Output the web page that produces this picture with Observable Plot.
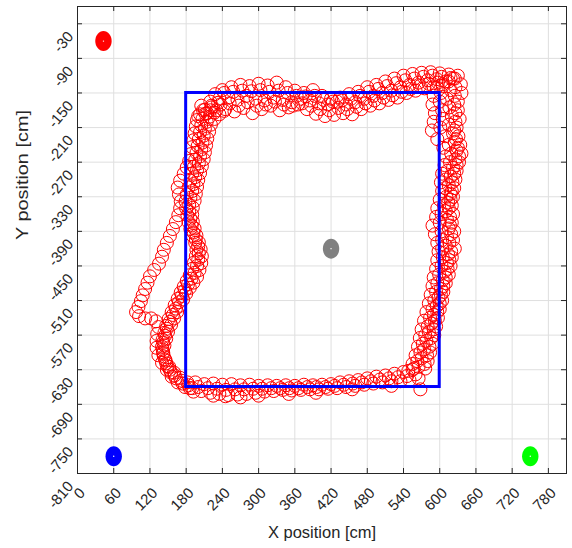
<!DOCTYPE html>
<html><head><meta charset="utf-8">
<script src="https://cdn.jsdelivr.net/npm/d3@7"></script>
<script src="https://cdn.jsdelivr.net/npm/@observablehq/plot@0.6"></script>
<style>body{margin:0;background:#fff} #chart svg{display:block}</style>
</head><body><div id="chart"></div>
<script>
const xTicks = [0,60,120,180,240,300,360,420,480,540,600,660,720,780];
const yTicks = [-810,-750,-690,-630,-570,-510,-450,-390,-330,-270,-210,-150,-90,-30];
const xDomain = [0, 810];
const yDomain = [-810, 0];

// reference square (cm)
const squareX = [180, 600];
const squareY = [-660, -150];

// anchors / landmarks
const markerX = [43, 60, 750, 420];
const markerY = [-60, -780, -780, -420];
const markerColor = ["#ff0000", "#0000ff", "#00ff00", "#808080"];

// measured positions, read segment by segment
const topA = [[200,-190],[215,-185],[230,-180],[245,-178],[260,-182],[275,-176],[290,-185],[305,-178],[320,-172],[335,-180],[350,-175],[365,-170],[380,-178],[395,-186],[410,-190],[425,-188],[440,-185],[455,-187],[470,-178],[485,-172],[500,-168],[515,-162],[530,-158],[545,-150],[560,-146],[575,-142],[590,-140],[605,-138]];
const topB = [[205,-172],[220,-165],[235,-160],[250,-158],[265,-162],[280,-155],[295,-160],[310,-163],[325,-158],[340,-162],[355,-166],[370,-160],[385,-163],[400,-168],[415,-170],[430,-165],[445,-170],[460,-166],[475,-160],[490,-155],[505,-150],[520,-146],[535,-140],[550,-136],[565,-132],[580,-128],[595,-126],[610,-130]];
const topC = [[240,-145],[255,-140],[270,-136],[285,-138],[300,-134],[315,-137],[330,-132],[345,-140],[360,-146],[375,-150],[390,-145],[405,-155],[420,-160],[435,-158],[450,-152],[465,-148],[480,-140],[495,-136],[510,-130],[525,-125],[540,-120],[555,-117],[570,-115],[585,-114],[600,-116],[615,-118],[625,-125]];
const topD = [[208,-180],[222,-175],[237,-170],[252,-168],[267,-172],[282,-166],[297,-172],[312,-170],[327,-165],[342,-170],[357,-172],[372,-168],[387,-172],[402,-178],[417,-180],[432,-176],[447,-178],[462,-174],[477,-168],[492,-163],[507,-158],[522,-154],[537,-148],[552,-143],[567,-138],[582,-134],[597,-132]];
const topE = [[228,-152],[243,-150],[258,-148],[273,-146],[288,-147],[303,-145],[318,-148],[333,-146],[348,-150],[363,-155],[378,-156],[393,-155],[408,-162],[423,-165],[438,-163],[453,-160],[468,-155],[483,-148],[498,-143],[513,-138],[528,-133],[543,-128],[558,-125],[573,-122],[588,-120],[603,-122],[618,-124]];
const rightA = [[595,-140],[590,-155],[588,-170],[592,-185],[590,-200],[587,-215],[596,-230],[606,-245],[610,-260],[608,-275],[604,-290],[602,-305],[604,-320],[600,-335],[596,-350],[594,-365],[588,-380],[592,-395],[596,-410],[598,-425],[596,-440],[594,-455],[590,-470],[588,-485],[585,-500],[582,-515],[578,-530],[574,-545],[570,-560],[567,-575],[564,-590],[560,-605],[555,-620],[548,-632]];
const rightB = [[615,-130],[618,-145],[612,-160],[616,-175],[620,-190],[615,-205],[622,-220],[625,-235],[628,-250],[626,-265],[622,-280],[618,-295],[615,-310],[618,-325],[614,-340],[610,-355],[612,-370],[615,-385],[612,-400],[610,-415],[614,-430],[612,-445],[608,-460],[605,-475],[602,-490],[598,-505],[595,-520],[590,-535],[586,-550],[582,-565],[578,-580],[574,-595],[570,-610],[565,-625]];
const rightC = [[630,-120],[635,-135],[636,-150],[630,-165],[630,-180],[633,-195],[628,-210],[631,-225],[634,-240],[636,-255],[632,-270],[628,-285],[626,-300],[624,-315],[622,-330],[620,-345],[622,-360],[620,-375],[624,-390],[622,-405],[625,-420],[620,-435],[618,-450],[615,-465],[610,-480],[606,-495],[604,-510],[600,-525],[597,-540],[594,-555],[591,-570],[588,-585],[584,-600],[580,-615],[576,-628]];
const rightD = [[605,-135],[602,-150],[600,-165],[604,-180],[605,-195],[601,-210],[609,-225],[615,-240],[619,-255],[617,-270],[613,-285],[610,-300],[609,-315],[611,-330],[607,-345],[603,-360],[600,-375],[603,-390],[604,-405],[604,-420],[605,-435],[603,-450],[599,-465],[596,-480],[594,-495],[591,-510],[588,-525],[584,-540],[580,-555],[576,-570],[572,-585],[568,-600],[563,-615],[557,-628]];
const rightE = [[622,-125],[626,-140],[625,-155],[624,-170],[626,-185],[626,-200],[624,-215],[627,-230],[630,-245],[632,-260],[628,-275],[624,-290],[621,-305],[620,-320],[618,-335],[615,-350],[617,-365],[617,-380],[619,-395],[616,-410],[619,-425],[616,-440],[613,-455],[610,-470],[606,-485],[602,-500],[600,-515],[596,-530],[592,-545],[590,-560],[586,-575],[583,-590],[579,-605],[575,-620]];
const bottomA = [[555,-630],[540,-634],[525,-637],[510,-640],[495,-642],[480,-645],[465,-648],[450,-650],[435,-652],[420,-655],[405,-656],[390,-657],[375,-656],[360,-658],[345,-657],[330,-658],[315,-657],[300,-658],[285,-656],[270,-657],[255,-655],[240,-656],[225,-654],[210,-655],[195,-652]];
const bottomB = [[565,-645],[550,-648],[535,-650],[520,-650],[505,-652],[490,-654],[475,-656],[460,-658],[445,-660],[430,-662],[415,-663],[400,-664],[385,-664],[370,-665],[355,-666],[340,-665],[325,-667],[310,-668],[295,-670],[280,-672],[265,-673],[250,-674],[235,-672],[220,-670],[205,-667],[190,-662]];
const bottomC = [[568,-664],[520,-658],[455,-664],[395,-670],[350,-672],[300,-675],[270,-678],[245,-676],[225,-675]];
const bottomD = [[560,-638],[546,-641],[531,-643],[516,-645],[501,-647],[486,-650],[471,-652],[456,-654],[441,-656],[426,-658],[411,-660],[396,-660],[381,-660],[366,-662],[351,-662],[336,-662],[321,-662],[306,-663],[291,-663],[276,-664],[261,-664],[246,-665],[231,-663],[216,-662],[200,-660]];
const leftA = [[182,-652],[170,-644],[160,-635],[152,-625],[146,-614],[142,-602],[140,-590],[141,-578],[144,-566],[147,-554],[151,-542],[156,-530],[161,-518],[166,-507],[171,-496],[176,-486],[181,-476],[186,-466],[190,-455],[193,-444],[196,-433],[197,-422],[195,-410],[191,-398],[187,-386],[184,-374],[182,-362],[180,-350],[179,-338],[181,-326],[184,-314],[187,-302],[190,-290],[193,-278],[195,-266],[197,-254],[199,-242],[201,-230],[203,-218],[205,-206],[207,-195],[212,-186],[220,-180]];
const leftB = [[186,-662],[174,-654],[163,-645],[155,-635],[149,-624],[145,-612],[142,-600],[144,-588],[147,-576],[150,-564],[155,-552],[160,-541],[165,-530],[170,-519],[175,-508],[180,-498],[186,-488],[192,-479],[198,-469],[202,-457],[205,-445],[206,-433],[204,-421],[201,-409],[197,-397],[194,-385],[191,-373],[190,-361],[191,-349],[194,-337],[196,-325],[198,-313],[200,-301],[203,-289],[206,-277],[209,-265],[211,-253],[213,-241],[215,-229],[218,-217],[221,-205],[227,-195],[235,-187],[243,-181]];
const leftC = [[192,-668],[178,-660],[166,-652],[156,-642],[148,-630],[140,-618],[134,-605],[131,-592],[131,-580],[132,-568],[134,-556],[130,-546],[122,-541],[112,-541],[102,-537],[97,-530],[101,-521],[105,-511],[108,-501],[112,-490],[116,-479],[120,-468],[127,-457],[135,-446],[140,-434],[143,-422],[148,-410],[153,-398],[158,-386],[163,-374],[167,-362],[170,-350],[171,-338],[168,-326],[166,-314],[170,-302],[176,-290],[181,-279],[185,-268],[188,-256],[190,-244],[192,-232],[194,-220],[196,-208],[198,-197],[203,-187],[211,-179],[222,-172],[233,-167]];
const leftD = [[184,-657],[172,-649],[161,-640],[153,-630],[147,-619],[143,-607],[141,-595],[142,-583],[145,-571],[148,-559],[153,-547],[158,-535],[163,-524],[168,-513],[173,-502],[178,-492],[183,-482],[189,-472],[194,-462],[198,-450],[200,-439],[201,-428],[200,-416],[196,-404],[192,-392],[189,-380],[187,-368],[185,-356],[185,-344],[187,-332],[190,-320],[192,-308],[195,-296],[198,-284],[201,-272],[203,-260],[205,-248],[207,-236],[209,-224],[211,-212],[214,-200],[219,-191],[227,-184]];

const track = [...leftA, ...topA, ...rightA, ...bottomA, ...leftD, ...topD, ...rightD, ...bottomD,
  ...leftB, ...topB, ...rightB, ...bottomB, ...leftC, ...topE, ...topC, ...rightE, ...rightC, ...bottomC];
const markers = markerX.map((x, i) => ({x, y: markerY[i], color: markerColor[i]}));
const square = [{x1: squareX[0], x2: squareX[1], y1: squareY[0], y2: squareY[1]}];

const ellipse = {
  draw(ctx) {
    const rx = 8.2, ry = 10, k = 0.5522847498;
    ctx.moveTo(rx, 0);
    ctx.bezierCurveTo(rx, k * ry, k * rx, ry, 0, ry);
    ctx.bezierCurveTo(-k * rx, ry, -rx, k * ry, -rx, 0);
    ctx.bezierCurveTo(-rx, -k * ry, -k * rx, -ry, 0, -ry);
    ctx.bezierCurveTo(k * rx, -ry, rx, -k * ry, rx, 0);
    ctx.closePath();
  }
};

const ink = "#262626";
const W = 572, H = 548, mL = 77, mR = 6, mT = 6, mB = 75;
const innerW = W - mL - mR, innerH = H - mT - mB;
const fmt = d => String(d);

const chart = Plot.plot({
  width: W, height: H,
  marginLeft: mL, marginRight: mR, marginTop: mT, marginBottom: mB,
  x: {domain: xDomain},
  y: {domain: yDomain},
  color: {type: "identity"},
  style: {fontFamily: "'Liberation Sans', Arial, sans-serif", fontSize: "14px", color: ink, background: "#fff"},
  marks: [
    Plot.gridX(xTicks, {stroke: "#dfdfdf", strokeOpacity: 1}),
    Plot.gridY(yTicks, {stroke: "#dfdfdf", strokeOpacity: 1}),
    Plot.dot(track, {x: d => d[0], y: d => d[1], r: 6.5, stroke: "#ff0000", strokeWidth: 1, fill: "none"}),
    Plot.rect(square, {x1: "x1", x2: "x2", y1: "y1", y2: "y2", stroke: "#0000ff", strokeWidth: 3, fill: "none"}),
    Plot.dot(markers, {x: "x", y: "y", fill: "color", symbol: ellipse, r: 9}),
    Plot.dot(markers, {x: "x", y: "y", fill: "white", r: 0.7}),
    Plot.frame({stroke: ink, strokeWidth: 1}),
    // inward ticks on all four sides
    Plot.ruleX(xTicks, {x: d => d, insetTop: innerH - 5, stroke: ink}),
    Plot.ruleX(xTicks, {x: d => d, insetBottom: innerH - 5, stroke: ink}),
    Plot.ruleY(yTicks, {y: d => d, insetRight: innerW - 5, stroke: ink}),
    Plot.ruleY(yTicks, {y: d => d, insetLeft: innerW - 5, stroke: ink}),
    Plot.axisX(xTicks, {anchor: "bottom", tickSize: 0, tickRotate: -45, tickPadding: 17, dx: 5, textAnchor: "end", lineAnchor: "middle", label: null, fill: ink, fontSize: 15, tickFormat: fmt}),
    Plot.axisY(yTicks, {anchor: "left", tickSize: 0, tickRotate: -50, tickPadding: 7, dy: 10, textAnchor: "end", lineAnchor: "middle", label: null, fill: ink, fontSize: 15, tickFormat: fmt}),
    Plot.text({length: 1}, {frameAnchor: "bottom", text: () => "X position [cm]", dy: 64, fontSize: 16.5, fill: ink}),
    Plot.text({length: 1}, {frameAnchor: "left", text: () => "Y position [cm]", rotate: -90, dx: -55, fontSize: 16.5, fill: ink})
  ]
});
d3.select(chart).selectAll("text")
  .filter(function() { return this.textContent === "Y position [cm]"; })
  .attr("textLength", 130).attr("lengthAdjust", "spacingAndGlyphs");
document.getElementById("chart").append(chart);
</script>
</body></html>
